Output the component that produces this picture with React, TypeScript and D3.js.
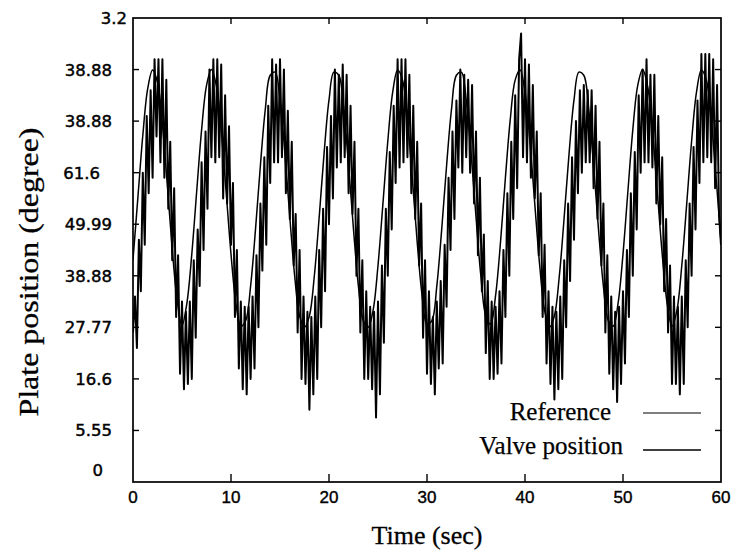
import React from "react";
import * as d3 from "d3";

// Tick labels of the y axis, from bottom tick to top tick (as printed in the figure)
const yTickLabels = ["0", "5.55", "16.6", "27.77", "38.88", "49.99", "61.6", "38.88", "38.88", "3.2"];
const xTicks = [0, 10, 20, 30, 40, 50, 60];

// Reference signal, sampled every 0.5 s from t = 0 to 60 (in y-tick units)
const refStep = 0.5;
const referenceValues = [
  4.31, 5.52, 6.72, 7.63, 7.99, 7.75, 6.94, 5.77, 4.53, 3.54, 3.03,
  3.47, 4.42, 5.64, 6.83, 7.69, 8.0, 7.69, 6.83, 5.64, 4.42, 3.47, 3.02,
  3.13, 3.8, 4.9, 6.14, 7.23, 7.89, 7.95, 7.41, 6.38, 5.14, 3.99, 3.22, 3.0,
  3.22, 3.99, 5.14, 6.38, 7.41, 7.95, 7.89, 7.23, 6.14, 4.9, 3.8, 3.13, 3.0,
  3.33, 4.2, 5.39, 6.61, 7.56, 7.99, 7.8, 7.04, 5.9, 4.65, 3.62, 3.06,
  3.13, 3.8, 4.9, 6.14, 7.23, 7.89, 7.95, 7.41, 6.38, 5.14, 3.99, 3.22,
  3.06, 3.62, 4.65, 5.9, 7.04, 7.8, 7.99, 7.56, 6.61, 5.39, 4.2, 3.33,
  3.0, 3.22, 3.99, 5.14, 6.38, 7.41, 7.95, 7.89, 7.23, 6.14, 4.9, 3.8,
  3.13, 3.02, 3.47, 4.42, 5.64, 6.83, 7.69, 8.0, 7.69, 6.83, 5.64, 4.42,
  3.47, 3.02, 3.33, 4.2, 5.39, 6.61, 7.56, 7.99, 7.8, 7.04, 5.9, 4.65,
];

// Valve position, sampled every 0.2 s from t = 0 to 60 (in y-tick units)
const valveStep = 0.2;
const valveValues = [
  2.9,
  3.6, 2.6, 4.7, 3.7, 6.0, 4.6, 7.1, 5.6, 7.6, 5.9, 8.2, 6.7, 8.2, 6.2, 8.2, 5.9, 7.8, 5.3, 6.6, 4.3, 5.7, 3.2, 4.4, 2.1, 3.5, 1.8, 3.3,
  1.9, 3.5, 2.0, 4.3, 2.8, 4.9, 3.8, 6.2, 4.5, 6.8, 5.3, 8.0, 6.3, 8.2, 6.2, 8.2, 6.3, 8.1, 5.5, 7.5, 5.4, 6.9, 4.6, 5.8, 3.2, 4.5, 2.2, 3.5, 1.8, 3.4, 1.7,
  3.4, 2.0, 3.6, 2.2, 4.4, 3.0, 5.4, 4.1, 6.3, 4.6, 7.3, 5.8, 8.2, 6.2, 8.1, 6.2, 8.2, 6.3, 8.0, 5.6, 7.2, 5.1, 6.6, 4.2, 5.2, 2.9, 4.5, 2.0, 3.6, 1.9, 3.3, 1.4,
  3.2, 1.7, 3.6, 2.0, 4.5, 3.0, 5.3, 3.7, 6.5, 5.0, 7.1, 5.5, 8.0, 6.1, 7.9, 6.2, 8.1, 6.3, 7.9, 5.6, 7.3, 5.2, 6.6, 4.0, 5.3, 2.9, 4.3, 2.0, 3.7, 2.0, 3.4, 1.8,
  3.3, 1.25, 3.5, 1.7, 4.2, 2.7, 5.3, 4.0, 6.4, 4.9, 7.3, 5.8, 8.2, 6.1, 8.2, 6.2, 8.2, 6.3, 7.9, 5.6, 7.3, 5.1, 6.6, 4.2, 5.4, 2.8, 4.3, 2.1, 3.7, 1.9, 3.2,
  1.7, 3.5, 2.2, 3.9, 2.3, 4.6, 3.4, 5.9, 4.5, 6.8, 5.1, 7.4, 6.1, 8.0, 6.0, 7.9, 6.3, 7.8, 6.0, 7.7, 5.4, 6.8, 4.4, 5.9, 3.7, 4.8, 2.5, 3.9, 2.0, 3.5, 2.0,
  3.4, 2.1, 3.7, 2.3, 4.5, 3.2, 5.6, 4.0, 6.6, 5.1, 7.5, 5.7, 8.2, 8.7, 6.3, 8.2, 6.2, 8.1, 5.9, 7.7, 5.5, 6.8, 4.4, 5.6, 3.2, 4.6, 2.3, 3.7, 1.9, 3.4, 1.6,
  3.3, 1.8, 3.6, 2.0, 4.3, 3.0, 5.4, 3.9, 6.3, 4.7, 7.0, 5.6, 7.6, 6.0, 7.7, 6.2, 7.6, 6.2, 7.6, 5.7, 7.3, 5.1, 6.6, 4.2, 5.4, 2.9, 4.4, 2.1, 3.6, 1.8, 3.3,
  1.55, 3.4, 1.9, 3.7, 2.3, 4.5, 3.2, 5.6, 4.0, 6.4, 4.9, 7.5, 6.0, 8.0, 6.2, 8.2, 6.2, 7.9, 6.1, 7.9, 5.4, 7.1, 5.0, 6.3, 3.7, 5.1, 2.9, 4.2, 1.9, 3.6, 1.9, 3.4,
  1.7, 3.6, 1.9, 4.3, 3.0, 5.4, 4.0, 6.5, 4.9, 7.4, 5.8, 8.3, 6.2, 8.3, 6.3, 8.3, 6.2, 8.2, 5.7, 7.7, 5.2, 4.6,
];

const legendItems = ["Reference", "Valve position"];

// Layout
const W = 736;
const H = 556;
const left = 133;
const right = 721;
const top = 18;
const bottom = 482;
const yLabelEnd = [103, 112, 112, 112, 112, 112, 100, 112, 112, 127];
const yLabelDy = [-12, 0, 0, 0, 0, 0, 0, 0, 0, 0];

export default function App() {
  const x = d3.scaleLinear().domain([0, 60]).range([left, right]);
  const y = d3.scaleLinear().domain([0, 9]).range([bottom, top]);

  const refLine = d3
    .line<number>()
    .x((_, i) => x(i * refStep))
    .y((d) => y(d))
    .curve(d3.curveCatmullRom);
  const valveLine = d3
    .line<number>()
    .x((_, i) => x(i * valveStep))
    .y((d) => y(d));

  const yTicks = d3.range(0, 10);
  const serif = "'Liberation Serif', 'Times New Roman', serif";

  return (
    <svg
      width={W}
      height={H}
      style={{ position: "absolute", left: 0, top: 0, background: "#fff" }}
    >
      <rect x={0} y={0} width={W} height={H} fill="#fff" />
      <defs>
        <clipPath id="plot">
          <rect x={left} y={top} width={right - left} height={bottom - top} />
        </clipPath>
      </defs>

      <g clipPath="url(#plot)">
        <path d={valveLine(valveValues) || ""} fill="none" stroke="#000" strokeWidth={2.0} strokeLinejoin="round" />
        <path d={refLine(referenceValues) || ""} fill="none" stroke="#000" strokeWidth={1.5} />
      </g>

      {/* frame */}
      <rect x={left} y={top} width={right - left} height={bottom - top} fill="none" stroke="#000" strokeWidth={1.7} />

      {/* y ticks (left inward, right inward) */}
      {yTicks.slice(1, 9).map((t) => (
        <g key={"yt" + t}>
          <line x1={left} x2={left + 6} y1={y(t)} y2={y(t)} stroke="#000" strokeWidth={1.4} />
          <line x1={right - 6} x2={right} y1={y(t)} y2={y(t)} stroke="#000" strokeWidth={1.4} />
        </g>
      ))}
      {yTicks.map((t) => (
        <text
          key={"yl" + t}
          x={yLabelEnd[t]}
          y={y(t) + 6 + yLabelDy[t]}
          textAnchor="end"
          fontFamily="'DejaVu Sans', Verdana, sans-serif"
          fontSize={16.5}
          fill="#000"
          stroke="#000"
          strokeWidth={0.45}
        >
          {yTickLabels[t]}
        </text>
      ))}

      {/* x ticks */}
      {xTicks.slice(1, 6).map((t) => (
        <g key={"xt" + t}>
          <line x1={x(t)} x2={x(t)} y1={bottom} y2={bottom - 8} stroke="#000" strokeWidth={1.4} />
          <line x1={x(t)} x2={x(t)} y1={top} y2={top + 6} stroke="#000" strokeWidth={1.4} />
        </g>
      ))}
      {xTicks.map((t) => (
        <text
          key={"xl" + t}
          x={x(t)}
          y={503}
          textAnchor="middle"
          fontFamily="'Liberation Sans', Arial, sans-serif"
          fontSize={17}
          fill="#000"
          stroke="#000"
          strokeWidth={0.4}
        >
          {t}
        </text>
      ))}

      {/* axis titles */}
      <text x={(left + right) / 2} y={544} textAnchor="middle" fontFamily={serif} fontSize={26} fill="#000" stroke="#000" strokeWidth={0.3}>
        Time (sec)
      </text>
      <text
        transform="translate(38,272) rotate(-90)"
        textAnchor="middle"
        fontFamily={serif}
        fontSize={28}
        textLength={289}
        lengthAdjust="spacingAndGlyphs"
        fill="#000"
        stroke="#000"
        strokeWidth={0.3}
      >
        Plate position (degree)
      </text>

      {/* legend */}
      <text x={611} y={420} textAnchor="end" fontFamily={serif} fontSize={25} fill="#000" stroke="#000" strokeWidth={0.25}>
        {legendItems[0]}
      </text>
      <line x1={643} x2={701} y1={413} y2={413} stroke="#000" strokeWidth={1.2} />
      <text x={623} y={454} textAnchor="end" fontFamily={serif} fontSize={25} fill="#000" stroke="#000" strokeWidth={0.25}>
        {legendItems[1]}
      </text>
      <line x1={643} x2={701} y1={450} y2={450} stroke="#000" strokeWidth={1.6} />
    </svg>
  );
}
